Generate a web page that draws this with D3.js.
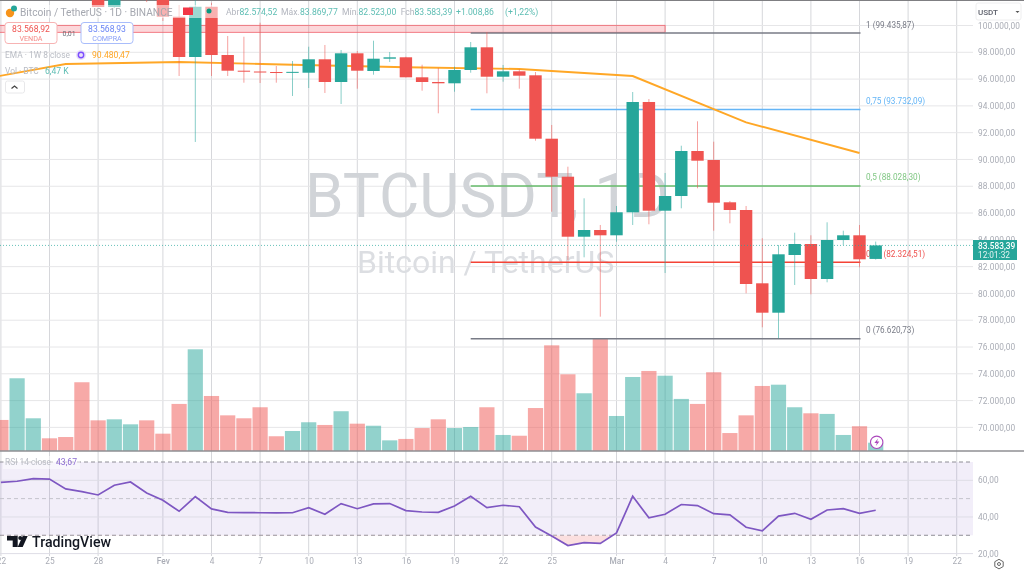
<!DOCTYPE html>
<meta charset="utf-8">
<style>
html, body { margin: 0; padding: 0; background: #fff; overflow: hidden; }
svg { display: block; filter: blur(0.4px); font-family: Roboto, sans-serif; }
.tick line, .domain { display: none; }
.axis text { fill: #a9acb5; font-size: 8.3px; font-family: Roboto, sans-serif; letter-spacing: .1px; }
</style>
<script src="https://d3js.org/d3.v7.min.js"></script>
<div id="my_dataviz"></div>
<script>
// daily candles, index 0 = 22 Jan 2025
var open  = [106100,103650,103950,104800,104700,102600,102450,101381,103700,104700,102400,100657,97649,101400,97798,96626,96566,96529,96470,96477,97477,95783,97925,96604,97522,97627,96133,95783,95686,96679,98373,96178,96581,96283,91550,88713,84234,84734,84339,86056,94290,86175,87272,90632,89960,86802,86227,80755,78561,82868,83689,81076,83988,84339,82574.52];
var high  = [106300,106800,105300,105200,105400,103000,102800,104000,106000,105000,102700,101531,102500,101700,99217,99164,100209,96977,97350,98418,98545,98172,98097,98866,98022,97671,97074,96828,96925,98769,99515,97052,96731,96529,92573,89460,87101,85108,86526,95036,94513,88990,91027,92849,91326,86899,86526,84115,83615,84533,84339,85309,84682,85108,83869.77];
var low   = [103400,103200,103300,104100,102500,102200,101381,101300,103300,101750,100336,96231,91304,96231,96231,95730,95708,95730,94738,95335,94962,94140,95282,96328,97276,96133,95133,93446,95058,96477,94939,95805,95282,91401,86100,82495,82696,78263,83861,85108,85160,81525,86354,87847,84682,85235,80009,77471,76650,80629,79934,80830,83615,81950,82523];
var close = [103650,103950,104800,104700,102600,102450,101381,103700,104700,102400,100657,97649,101400,97798,96626,96566,96500,96470,96540,97477,95783,97925,96626,97522,97625,96133,95783,95686,96679,98373,96178,96581,96253,91550,88713,84234,84734,84339,86056,94290,86175,87272,90632,89908,86772,86227,80703,78561,82920,83689,81076,83988,84339,82547,83583.39];

// volume in thousands of BTC
var volume = [24.2,56.7,25.5,9.9,10.9,53.6,23.9,24.7,20.8,23.9,13.5,36.7,79.3,42.9,27.8,25.5,34.1,11.5,15.6,22.4,20.3,31,21.3,19.7,8.3,9.4,17.9,24.7,17.9,18.7,34.1,12.5,11.9,33.5,82.4,59.8,45,88.1,27.3,57.7,62.4,58.7,40.6,36.7,61.4,14,27.8,50.7,51.7,34.1,29.4,28.9,12.5,19.3,6.47];

var rsi = [58.9,59.5,60.9,60.7,55.3,53.8,52,57.3,59.1,53.1,49.1,43.1,51.1,44.4,42.5,42.4,42.3,42.2,42.3,45.1,41.5,47.3,44.5,47.1,47.3,43.5,42.7,42.5,46,51.3,45.1,46.4,45.6,34.5,29.6,24.4,26,25.6,31.3,51.3,39.5,41.5,46.8,46.2,41.8,41.1,34.4,32.4,40.5,42,38.7,43.8,44.5,42,43.67];

// weekly EMA 8, one node per week
var emaIdx = [-3,4,11,18,25,32,39,46,53];
var emaVal = [95596,97126,97276,97074,96880,96753,96231,92774,90480.47];

// fib retracement drawing
var fibLevels = [99435.87,93732.09,88028.30,82324.51,76620.73];
var fibNames  = ["1","0,75","0,5","0,25","0"];
var fibColors = ["#787b86","#64b5f6","#66bb6a","#f44336","#787b86"];
var fibText   = ["#787b86","#64b5f6","#81c784","#ef5350","#787b86"];

var priceTicks = [100000,98000,96000,94000,92000,90000,88000,86000,84000,82000,80000,78000,76000,74000,72000,70000];
var rsiTicks = [60,40,20];
var timeIdx = [0,3,6,10,13,16,19,22,25,28,31,34,38,41,44,47,50,53,56,59];
var timeLabels = ["22","25","28","Fev","4","7","10","13","16","19","22","25","Mar","4","7","10","13","16","19","22"];

var width = 1024, height = 572, plotRight = 973, volBase = 451;
var red = "#ef5350", green = "#26a69a";

var svg = d3.select("#my_dataviz").append("svg")
    .attr("width", width)
    .attr("height", height);

var x = d3.scaleLinear().domain([0, 59]).range([0.9, 956.7]);
var y = d3.scaleLinear().domain([76000, 98000]).range([347, 52.3]);
var yVol = d3.scaleLinear().domain([0, 88.1]).range([volBase, 338]);
var yRsi = d3.scaleLinear().domain([20, 70]).range([553.6, 462]);

var locale = d3.formatLocale({decimal: ",", thousands: ".", grouping: [3], currency: ["", ""]});
var fmt = locale.format(",.2f");

svg.append("clipPath").attr("id", "plot").append("rect")
    .attr("x", 0).attr("y", 0).attr("width", plotRight).attr("height", volBase);
svg.append("clipPath").attr("id", "below30").append("rect")
    .attr("x", 0).attr("y", yRsi(30)).attr("width", plotRight).attr("height", 30);

// grid
svg.append("g").selectAll("line").data(timeIdx).enter().append("line")
    .attr("x1", function(d) { return x(d); }).attr("x2", function(d) { return x(d); })
    .attr("y1", 0).attr("y2", 556)
    .attr("stroke", "#d6d7db").attr("stroke-width", 1);
svg.append("g").selectAll("line").data(priceTicks).enter().append("line")
    .attr("x1", 0).attr("x2", plotRight)
    .attr("y1", function(d) { return y(d); }).attr("y2", function(d) { return y(d); })
    .attr("stroke", "#e6e6e8").attr("stroke-width", 1);

// top border
svg.append("line").attr("x1", 0).attr("x2", width).attr("y1", 0.5).attr("y2", 0.5)
    .attr("stroke", "#7f7f82");

// watermark
svg.append("text").attr("x", 305).attr("y", 217)
    .attr("font-size", 62).attr("fill", "#d1d4d8").text("BTCUSDT, 1D");
svg.append("text").attr("x", 357).attr("y", 273)
    .attr("font-size", 32).attr("fill", "#dcdee2").text("Bitcoin / TetherUS");

// volume
svg.append("g").selectAll("rect").data(volume).enter().append("rect")
    .attr("x", function(d, i) { return x(i) - 7.6; })
    .attr("y", function(d) { return yVol(d); })
    .attr("width", 15.2)
    .attr("height", function(d) { return volBase - yVol(d); })
    .attr("fill", function(d, i) { return close[i] >= open[i] ? green : red; })
    .attr("opacity", 0.5);

svg.append("line").attr("x1", 0).attr("x2", width).attr("y1", volBase).attr("y2", volBase)
    .attr("stroke", "#8f8f93").attr("stroke-width", 1.4);

// RSI pane
svg.append("rect").attr("x", 0).attr("y", yRsi(70)).attr("width", plotRight)
    .attr("height", yRsi(30) - yRsi(70)).attr("fill", "#7e57c2").attr("opacity", 0.1);
svg.append("g").selectAll("line").data(rsiTicks).enter().append("line")
    .attr("x1", 0).attr("x2", plotRight)
    .attr("y1", function(d) { return yRsi(d); }).attr("y2", function(d) { return yRsi(d); })
    .attr("stroke", "#dedde6");
[70, 50, 30].forEach(function(v) {
  svg.append("line").attr("x1", 0).attr("x2", plotRight)
      .attr("y1", yRsi(v)).attr("y2", yRsi(v))
      .attr("stroke", v == 50 ? "#c4c3cc" : "#8f8e96")
      .attr("stroke-dasharray", "4 3");
});
svg.append("path").datum(rsi)
    .attr("clip-path", "url(#below30)")
    .attr("fill", "#f9c9c9").attr("opacity", 0.6)
    .attr("d", d3.area().x(function(d, i) { return x(i); }).y0(yRsi(30)).y1(function(d) { return yRsi(d); }));
svg.append("path").datum(rsi)
    .attr("fill", "none").attr("stroke", "#7e57c2").attr("stroke-width", 1.7)
    .attr("d", d3.line().x(function(d, i) { return x(i); }).y(function(d) { return yRsi(d); }));

// drawings and candles, clipped to the price pane
var plot = svg.append("g").attr("clip-path", "url(#plot)");

plot.append("rect")
    .attr("x", -5).attr("y", y(100015))
    .attr("width", x(41) + 5).attr("height", y(99493) - y(100015))
    .attr("fill", "#f23645").attr("fill-opacity", 0.2)
    .attr("stroke", "#f0606a").attr("stroke-width", 0.8);

plot.append("g").selectAll("line").data(fibLevels).enter().append("line")
    .attr("x1", x(29)).attr("x2", x(53) + 1)
    .attr("y1", function(d) { return y(d); }).attr("y2", function(d) { return y(d); })
    .attr("stroke", function(d, i) { return fibColors[i]; })
    .attr("stroke-width", 1.5);

plot.append("g").selectAll("text").data(fibLevels).enter().append("text")
    .attr("x", 866)
    .attr("y", function(d) { return y(d) - 5.5; })
    .attr("font-size", 8.2)
    .attr("fill", function(d, i) { return fibText[i]; })
    .text(function(d, i) { return fibNames[i] + " (" + fmt(d) + ")"; });

plot.append("path").datum(emaVal)
    .attr("fill", "none").attr("stroke", "#ffa726").attr("stroke-width", 1.9)
    .attr("d", d3.line().x(function(d, i) { return x(emaIdx[i]); }).y(function(d) { return y(d); }));

plot.append("g").selectAll("line").data(close).enter().append("line")
    .attr("x1", function(d, i) { return x(i); }).attr("x2", function(d, i) { return x(i); })
    .attr("y1", function(d, i) { return y(high[i]); }).attr("y2", function(d, i) { return y(low[i]); })
    .attr("stroke", function(d, i) { return close[i] >= open[i] ? green : red; })
    .attr("stroke-opacity", 0.55);

plot.append("g").selectAll("rect").data(close).enter().append("rect")
    .attr("x", function(d, i) { return x(i) - 6.2; })
    .attr("width", 12.4)
    .attr("y", function(d, i) { return y(Math.max(open[i], close[i])); })
    .attr("height", function(d, i) { return Math.max(1, Math.abs(y(open[i]) - y(close[i]))); })
    .attr("fill", function(d, i) { return close[i] >= open[i] ? green : red; });

// last price line
svg.append("line").attr("x1", 0).attr("x2", plotRight)
    .attr("y1", y(83583.39)).attr("y2", y(83583.39))
    .attr("stroke", green).attr("stroke-opacity", 0.7).attr("stroke-dasharray", "1 2");

// axes
svg.append("g").attr("class", "axis").attr("transform", "translate(" + plotRight + ",0)")
    .call(d3.axisRight(y).tickValues(priceTicks).tickSize(0).tickPadding(5).tickFormat(fmt));
svg.append("g").attr("class", "axis").attr("transform", "translate(" + plotRight + ",0)")
    .call(d3.axisRight(yRsi).tickValues(rsiTicks).tickSize(0).tickPadding(5).tickFormat(fmt));
svg.append("g").attr("class", "axis").attr("transform", "translate(0,558)")
    .call(d3.axisBottom(x).tickValues(timeIdx).tickSize(0).tickPadding(0)
      .tickFormat(function(d, i) { return timeLabels[i]; }));
svg.selectAll(".axis text").filter(function() { var t = d3.select(this).text(); return t == "Fev" || t == "Mar"; })
    .attr("font-weight", 500);

// price tag
svg.append("rect").attr("x", plotRight).attr("y", 240).attr("width", 44).attr("height", 20).attr("fill", green);
svg.append("text").attr("x", 978).attr("y", 248.5).attr("font-size", 8.3).attr("font-weight", 500).attr("fill", "#fff").text("83.583,39");
svg.append("text").attr("x", 978).attr("y", 257.5).attr("font-size", 8.3).attr("fill", "#e4f4f2").text("12:01:32");

// USDT button
svg.append("rect").attr("x", 976).attr("y", 3).attr("width", 45).attr("height", 17).attr("rx", 2)
    .attr("fill", "#fff").attr("stroke", "#eeeeef");
svg.append("text").attr("x", 978).attr("y", 15).attr("font-size", 8).attr("font-weight", 500).attr("fill", "#5d606b").text("USDT");
svg.append("path").attr("d", "M1015.5 11 l2 2 l2 -2z").attr("fill", "#555");

// gear
svg.append("path").attr("d", "M999 559.3 l4.2 2.4 v4.8 l-4.2 2.4 l-4.2 -2.4 v-4.8z").attr("fill", "none").attr("stroke", "#666").attr("stroke-width", 1);
svg.append("circle").attr("cx", 999).attr("cy", 564).attr("r", 1.5).attr("fill", "none").attr("stroke", "#666");

// top legend
svg.append("rect").attr("x", 5).attr("y", 5).attr("width", 215).attr("height", 13).attr("fill", "#fff").attr("opacity", 0.55);
svg.append("circle").attr("cx", 10).attr("cy", 13).attr("r", 4.2).attr("fill", "#f7931a");
svg.append("circle").attr("cx", 14).attr("cy", 8.5).attr("r", 3).attr("fill", "#26a69a");
function label(px, py, size, color, txt, weight) {
  return svg.append("text").attr("x", px).attr("y", py).attr("font-size", size)
      .attr("fill", color).attr("font-weight", weight || 400).text(txt);
}
label(20, 15.5, 10.2, "#a5a8b0", "Bitcoin / TetherUS · 1D · BINANCE");
svg.append("rect").attr("x", 183).attr("y", 7.5).attr("width", 10).attr("height", 7.5).attr("fill", "#f23645");
svg.append("circle").attr("cx", 209).attr("cy", 11).attr("r", 2.5).attr("fill", "#089981");
label(226, 14.5, 8.6, "#b2b5be", "Abr");
label(239.5, 14.5, 8.6, "#5dbdb3", "82.574,52");
label(281, 14.5, 8.6, "#b2b5be", "Máx.");
label(300, 14.5, 8.6, "#5dbdb3", "83.869,77");
label(342, 14.5, 8.6, "#b2b5be", "Mín.");
label(358.5, 14.5, 8.6, "#5dbdb3", "82.523,00");
label(400.7, 14.5, 8.6, "#b2b5be", "Fch");
label(414.5, 14.5, 8.6, "#5dbdb3", "83.583,39");
label(456, 14.5, 8.6, "#5dbdb3", "+1.008,86");
label(505, 14.5, 8.6, "#5dbdb3", "(+1,22%)");

// sell / buy boxes
svg.append("rect").attr("x", 5).attr("y", 22.5).attr("width", 52).attr("height", 21).attr("rx", 3)
    .attr("fill", "#fff").attr("stroke", "#f7b3b3");
svg.append("rect").attr("x", 81).attr("y", 22.5).attr("width", 52).attr("height", 21).attr("rx", 3)
    .attr("fill", "#fff").attr("stroke", "#a9bdfb");
label(31, 32, 8.6, "#ef5350", "83.568,92").attr("text-anchor", "middle");
label(31, 41, 7.2, "#f58a87", "VENDA").attr("text-anchor", "middle");
label(107, 32, 8.6, "#6a85f5", "83.568,93").attr("text-anchor", "middle");
label(107, 41, 7.2, "#8aa0f8", "COMPRA").attr("text-anchor", "middle");
label(62.5, 36, 7, "#6a6d78", "0,01");

// indicator legends
label(5, 58, 8.4, "#b9bcc4", "EMA · 1W 8 close");
svg.append("circle").attr("cx", 81).attr("cy", 55).attr("r", 5).attr("fill", "#e8e0f8");
svg.append("circle").attr("cx", 81).attr("cy", 55).attr("r", 2.7).attr("fill", "none").attr("stroke", "#7c4dff").attr("stroke-width", 1.4);
label(92, 58, 8.6, "#ffa726", "90.480,47");
label(5, 74, 8.4, "#b9bcc4", "Vol · BTC");
label(45, 74, 8.6, "#5dbdb3", "6,47 K");
svg.append("rect").attr("x", 5.5).attr("y", 81).attr("width", 19).attr("height", 12).attr("rx", 2)
    .attr("fill", "#fff").attr("stroke", "#e8e8ea");
svg.append("path").attr("d", "M11.5 88.5 l3 -2.5 l3 2.5").attr("fill", "none").attr("stroke", "#444").attr("stroke-width", 1.2);

svg.append("rect").attr("x", 3).attr("y", 456).attr("width", 77).attr("height", 13).attr("fill", "#fff").attr("opacity", 0.5);
label(5, 465, 8.4, "#b9bcc4", "RSI 14 close");
label(56, 465, 8.6, "#8c6bd1", "43,67");

// alert icon on the last bar
svg.append("circle").attr("cx", 876.7).attr("cy", 442.3).attr("r", 6.2)
    .attr("fill", "#fff").attr("stroke", "#ab47bc").attr("stroke-width", 1.1);
svg.append("path").attr("d", "M878 438.5 l-3.6 4.4 h2.4 l-1 3 l3.6 -4.4 h-2.4z").attr("fill", "#ab47bc");

// logo
svg.append("path").attr("d", "M7 536 h10.7 v11 h-5 v-6.5 h-5.7z M22.7 536 h5 l-5 11 h-5z").attr("fill", "#131722");
svg.append("circle").attr("cx", 20.2).attr("cy", 538).attr("r", 2).attr("fill", "#131722");
label(32, 546.5, 14.2, "#131722", "TradingView", 500);
</script>
